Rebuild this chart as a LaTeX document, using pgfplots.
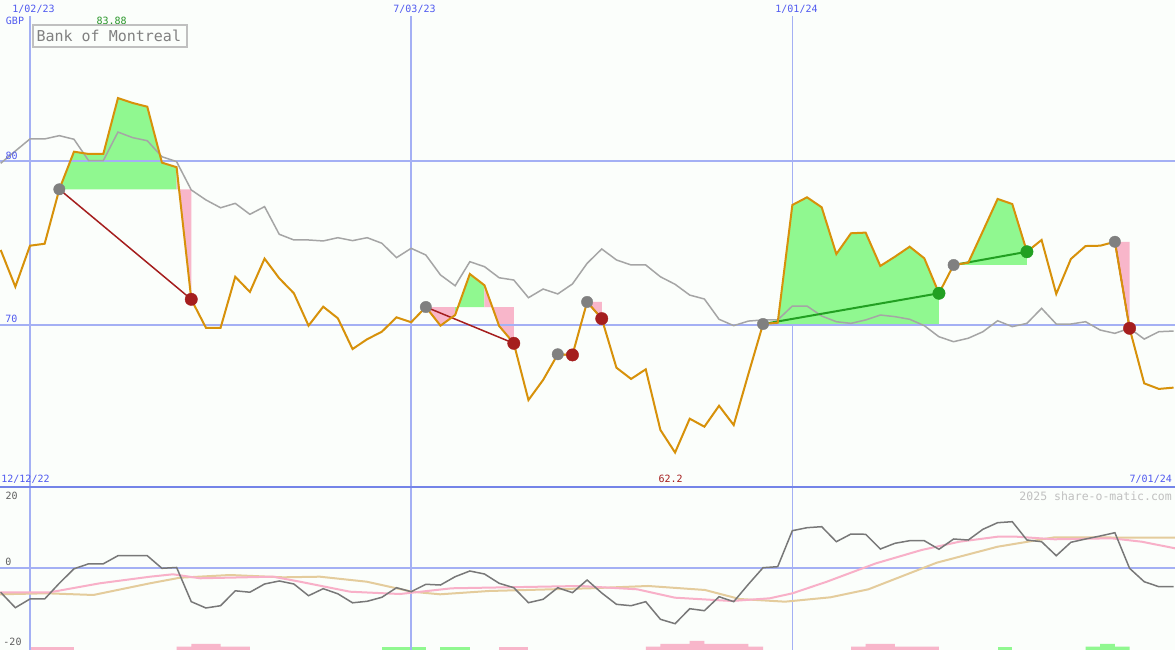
\documentclass[border=0pt]{standalone}
\usepackage{pgfplots}
\pgfplotsset{compat=1.18}
\usepackage{pgfplotstable}
\usepackage{fontspec}
\newfontfamily\mono{DejaVu Sans Mono}
\definecolor{bg}{RGB}{251,254,251}
\definecolor{gridblue}{RGB}{164,176,244}
\definecolor{sepblue}{RGB}{116,132,232}
\definecolor{labblue}{RGB}{80,90,240}
\definecolor{orangeline}{RGB}{215,145,10}
\definecolor{greyline}{RGB}{165,165,165}
\definecolor{fillgreen}{RGB}{144,248,144}
\definecolor{fillpink}{RGB}{248,182,202}
\definecolor{lossred}{RGB}{165,30,30}
\definecolor{gaingreen}{RGB}{34,160,34}
\definecolor{markgrey}{RGB}{128,128,128}
\definecolor{momgrey}{RGB}{120,120,120}
\definecolor{smpink}{RGB}{248,176,200}
\definecolor{smtan}{RGB}{228,204,156}
\definecolor{labgreen}{RGB}{40,150,40}
\definecolor{boxgrey}{RGB}{192,192,192}
\definecolor{txtgrey}{RGB}{128,128,128}
\definecolor{ticgrey}{RGB}{96,96,96}

\pgfplotstableread{
k v
-2 74.59
-1 72.34
0 74.85
1 74.97
2 78.30
3 80.60
4 80.46
5 80.46
6 83.88
7 83.58
8 83.35
9 79.93
10 79.65
11 71.57
12 69.83
13 69.83
14 72.95
15 72.02
16 74.06
17 72.86
18 71.94
19 69.96
20 71.12
21 70.41
22 68.53
23 69.13
24 69.59
25 70.47
26 70.17
27 71.10
28 69.96
29 70.61
30 73.12
31 72.43
32 69.94
33 68.88
34 65.41
35 66.64
36 68.21
37 68.17
38 71.41
39 70.39
40 67.39
41 66.70
42 67.29
43 63.58
44 62.20
45 64.27
46 63.78
47 65.06
48 63.88
49 67.00
50 70.06
51 70.14
52 77.34
53 77.81
54 77.20
55 74.34
56 75.61
57 75.65
58 73.61
59 74.18
60 74.79
61 74.08
62 71.94
63 73.67
64 73.81
65 75.75
66 77.71
67 77.40
68 74.48
69 75.20
70 71.90
71 74.04
72 74.83
73 74.85
74 75.09
75 69.80
76 66.43
77 66.09
78 66.17
}\orangedata

\pgfplotstableread{
k v
-2 79.89
-1 80.64
0 81.38
1 81.38
2 81.58
3 81.36
4 80.05
5 80.05
6 81.80
7 81.46
8 81.27
9 80.29
10 79.99
11 78.26
12 77.65
13 77.17
14 77.44
15 76.77
16 77.24
17 75.55
18 75.20
19 75.20
20 75.14
21 75.34
22 75.16
23 75.34
24 75.00
25 74.12
26 74.69
27 74.28
28 73.06
29 72.40
30 73.87
31 73.57
32 72.89
33 72.75
34 71.67
35 72.20
36 71.90
37 72.51
38 73.77
39 74.65
40 73.98
41 73.67
42 73.67
43 72.95
44 72.49
45 71.83
46 71.59
47 70.35
48 69.96
49 70.24
50 70.31
51 70.31
52 71.16
53 71.16
54 70.55
55 70.20
56 70.10
57 70.31
58 70.61
59 70.51
60 70.35
61 69.96
62 69.28
63 68.98
64 69.19
65 69.59
66 70.26
67 69.90
68 70.10
69 71.02
70 70.06
71 70.06
72 70.20
73 69.69
74 69.49
75 69.80
76 69.14
77 69.59
78 69.63
}\greydata

\pgfplotstableread{
k v
-2 -6.83
-1 -11.11
0 -8.69
1 -8.69
2 -4.33
3 -0.31
4 1.08
5 1.08
6 3.33
7 3.33
8 3.33
9 -0.17
10 0.06
11 -9.44
12 -11.19
13 -10.56
14 -6.42
15 -6.81
16 -4.53
17 -3.69
18 -4.53
19 -7.78
20 -5.83
21 -7.25
22 -9.75
23 -9.33
24 -8.22
25 -5.56
26 -6.67
27 -4.61
28 -4.81
29 -2.50
30 -0.92
31 -1.75
32 -4.33
33 -5.56
34 -9.72
35 -8.78
36 -5.56
37 -6.94
38 -3.42
39 -7.03
40 -10.17
41 -10.56
42 -9.44
43 -14.33
44 -15.56
45 -11.39
46 -11.94
47 -8.06
48 -9.44
49 -4.61
50 0.00
51 0.28
52 10.28
53 11.11
54 11.39
55 7.22
56 9.36
57 9.28
58 5.19
59 6.78
60 7.50
61 7.50
62 5.11
63 7.97
64 7.69
65 10.67
66 12.50
67 12.78
68 7.69
69 7.22
70 3.33
71 7.06
72 7.97
73 8.81
74 9.72
75 -0.17
76 -3.89
77 -5.28
78 -5.28
}\momdata

\pgfplotstableread{
k v
-2.05 -6.83
1.36 -6.83
4.77 -4.33
8.19 -2.50
9.75 -1.83
11.60 -2.94
16.58 -2.50
18.42 -3.89
21.83 -6.67
25.24 -7.31
28.76 -5.72
32.61 -5.44
37.52 -5.08
41.41 -6.00
43.99 -8.33
47.87 -9.25
50.46 -8.50
52.01 -7.11
54.35 -3.89
57.71 1.22
60.82 4.92
63.40 7.22
66.00 8.61
67.29 8.61
69.88 7.89
73.76 8.17
75.83 7.22
78.10 5.39
}\pinkdata

\pgfplotstableread{
k v
-2.05 -7.39
1.14 -7.11
4.32 -7.58
8.19 -4.33
10.23 -2.78
13.64 -2.03
17.28 -2.67
19.78 -2.50
22.97 -3.89
26.06 -6.67
27.97 -7.39
31.31 -6.47
38.20 -5.72
42.16 -5.08
46.04 -6.19
48.39 -8.69
51.50 -9.44
54.60 -8.22
57.19 -6.00
61.85 1.39
66.00 5.83
69.88 8.44
78.10 8.33
}\tandata

\begin{document}
\begin{tikzpicture}
\fill[bg] (0pt,0pt) rectangle (1175pt,650pt);

% ---------------- top panel ----------------
\begin{axis}[at={(0pt,163pt)}, anchor=south west, scale only axis,
  width=1175pt, height=487pt,
  xmin=-2.046, xmax=78.10, ymin=60.092, ymax=89.878,
  hide axis, clip=true]
\draw[gridblue, line width=1.2pt] (axis cs:0,60.092) -- (axis cs:0,88.90);
\draw[gridblue, line width=2pt] (axis cs:26,60.092) -- (axis cs:26,88.90);
\draw[gridblue, line width=1pt] (axis cs:52,60.092) -- (axis cs:52,88.90);
% trade fills
\addplot[fill=fillgreen, draw=none, forget plot] coordinates {(2,78.30)(3,80.60)(4,80.46)(5,80.46)(6,83.88)(7,83.58)(8,83.35)(9,79.93)(10,79.65)(10,78.30)};
\addplot[fill=fillpink, draw=none, forget plot] coordinates {(10,78.30)(10,79.65)(11,71.57)(11,78.30)};
\addplot[fill=fillpink, draw=none, forget plot] coordinates {(27,71.10)(28,69.96)(29,70.61)(29,71.10)};
\addplot[fill=fillgreen, draw=none, forget plot] coordinates {(29,71.10)(29,70.61)(30,73.12)(31,72.43)(31,71.10)};
\addplot[fill=fillpink, draw=none, forget plot] coordinates {(31,71.10)(31,72.43)(32,69.94)(33,68.88)(33,71.10)};
\addplot[fill=fillpink, draw=none, forget plot] coordinates {(36,68.21)(37,68.17)(37,68.21)};
\addplot[fill=fillpink, draw=none, forget plot] coordinates {(38,71.41)(39,70.39)(39,71.41)};
\addplot[fill=fillgreen, draw=none, forget plot] coordinates {(50,70.06)(51,70.14)(52,77.34)(53,77.81)(54,77.20)(55,74.34)(56,75.61)(57,75.65)(58,73.61)(59,74.18)(60,74.79)(61,74.08)(62,71.94)(62,70.06)};
\addplot[fill=fillgreen, draw=none, forget plot] coordinates {(63,73.67)(64,73.81)(65,75.75)(66,77.71)(67,77.40)(68,74.48)(68,73.67)};
\addplot[fill=fillpink, draw=none, forget plot] coordinates {(74,75.09)(75,69.80)(75,75.09)};
% horizontal grid
\draw[gridblue, line width=2pt] (axis cs:-2.046,80) -- (axis cs:78.10,80);
\draw[gridblue, line width=2pt] (axis cs:-2.046,70) -- (axis cs:78.10,70);
% comparison line
\addplot[greyline, line width=1.5pt, forget plot] table[x=k,y=v] {\greydata};
% entry markers
\addplot[only marks, mark=*, mark size=5.7pt, color=markgrey, forget plot] coordinates {(2,78.30)(27,71.10)(36,68.21)(38,71.41)(50,70.06)(63,73.67)(74,75.09)};
% trade lines
\addplot[lossred, line width=1.5pt, forget plot] coordinates {(2,78.30)(11,71.57)};
\addplot[lossred, line width=1.5pt, forget plot] coordinates {(27,71.10)(33,68.88)};
\addplot[lossred, line width=1.5pt, forget plot] coordinates {(36,68.21)(37,68.17)};
\addplot[lossred, line width=1.5pt, forget plot] coordinates {(38,71.41)(39,70.39)};
\addplot[lossred, line width=1.5pt, forget plot] coordinates {(74,75.09)(75,69.80)};
\addplot[gaingreen, line width=2pt, forget plot] coordinates {(50,70.06)(62,71.94)};
\addplot[gaingreen, line width=2pt, forget plot] coordinates {(63,73.67)(68,74.48)};
% price
\addplot[orangeline, line width=2pt, forget plot] table[x=k,y=v] {\orangedata};
% exit markers
\addplot[only marks, mark=*, mark size=6.2pt, color=lossred, forget plot] coordinates {(11,71.57)(33,68.88)(37,68.17)(39,70.39)(75,69.80)};
\addplot[only marks, mark=*, mark size=6.2pt, color=gaingreen, forget plot] coordinates {(62,71.94)(68,74.48)};
\end{axis}

% ---------------- bottom bars ----------------
\begin{axis}[at={(0pt,0pt)}, anchor=south west, scale only axis,
  width=1175pt, height=163pt,
  xmin=-2.046, xmax=78.10, ymin=0, ymax=163,
  hide axis, clip=true]
\addplot[fill=fillpink, draw=none, forget plot] coordinates {(0,0)(0,3.3)(3,3.3)(3,0)};
\addplot[fill=fillpink, draw=none, forget plot] coordinates {(10,0)(10,3.3)(11,3.3)(11,6)(13,6)(13,3.3)(15,3.3)(15,0)};
\addplot[fill=fillpink, draw=none, forget plot] coordinates {(32,0)(32,3.3)(34,3.3)(34,0)};
\addplot[fill=fillpink, draw=none, forget plot] coordinates {(42,0)(42,3.3)(43,3.3)(43,6)(45,6)(45,9)(46,9)(46,6)(49,6)(49,3.3)(50,3.3)(50,0)};
\addplot[fill=fillpink, draw=none, forget plot] coordinates {(56,0)(56,3.3)(57,3.3)(57,6)(59,6)(59,3.3)(62,3.3)(62,0)};
\addplot[fill=fillgreen, draw=none, forget plot] coordinates {(24,0)(24,3.3)(27,3.3)(27,0)};
\addplot[fill=fillgreen, draw=none, forget plot] coordinates {(28,0)(28,3.3)(30,3.3)(30,0)};
\addplot[fill=fillgreen, draw=none, forget plot] coordinates {(66,0)(66,3.3)(67,3.3)(67,0)};
\addplot[fill=fillgreen, draw=none, forget plot] coordinates {(72,0)(72,3.3)(73,3.3)(73,6)(74,6)(74,3.3)(75,3.3)(75,0)};
\end{axis}

% ---------------- bottom panel ----------------
\begin{axis}[at={(0pt,0pt)}, anchor=south west, scale only axis,
  width=1175pt, height=163pt,
  xmin=-2.046, xmax=78.10, ymin=-22.861, ymax=22.417,
  hide axis, clip=true]
\draw[gridblue, line width=1.2pt] (axis cs:0,-22.861) -- (axis cs:0,22.417);
\draw[gridblue, line width=2pt] (axis cs:26,-22.861) -- (axis cs:26,22.417);
\draw[gridblue, line width=1pt] (axis cs:52,-22.861) -- (axis cs:52,22.417);
\draw[gridblue, line width=2pt] (axis cs:-2.046,0) -- (axis cs:78.10,0);
\addplot[smtan, line width=2pt, forget plot] table[x=k,y=v] {\tandata};
\addplot[smpink, line width=2pt, forget plot] table[x=k,y=v] {\pinkdata};
\addplot[momgrey, line width=1.5pt, forget plot] table[x=k,y=v] {\momdata};
\end{axis}

% separator
\draw[sepblue, line width=2pt] (0pt,163.3pt) -- (1175pt,163.3pt);

% labels
\begin{scope}[every node/.style={inner sep=0pt, font=\mono\fontsize{10}{12}\selectfont}]
\node[text=labblue] at (33.5pt,641pt) {1/02/23};
\node[text=labblue] at (414.5pt,641pt) {7/03/23};
\node[text=labblue] at (796.5pt,641pt) {1/01/24};
\node[text=labblue] at (15pt,629pt) {GBP};
\node[text=labgreen] at (111.7pt,629pt) {83.88};
\node[text=labblue] at (11.7pt,494pt) {80};
\node[text=labblue] at (11.3pt,330.7pt) {70};
\node[text=labblue] at (25.5pt,171pt) {12/12/22};
\node[text=lossred] at (670.6pt,171pt) {62.2};
\node[text=labblue, anchor=east] at (1172pt,171pt) {7/01/24};
\node[text=ticgrey] at (11.7pt,154.3pt) {20};
\node[text=ticgrey] at (8.3pt,88.3pt) {0};
\node[text=ticgrey] at (12.5pt,8.3pt) {-20};
\node[text=boxgrey, anchor=east, font=\mono\fontsize{11.5}{13}\selectfont] at (1172pt,154pt) {2025 share-o-matic.com};
\end{scope}
\draw[boxgrey, line width=2pt] (33.3pt,602.7pt) rectangle (187.3pt,624.7pt);
\node[inner sep=0pt, text=txtgrey, font=\mono\fontsize{15}{17}\selectfont] at (108.8pt,614.3pt) {Bank of Montreal};

\pgfresetboundingbox
\path (0pt,0pt) rectangle (1175pt,650pt);
\end{tikzpicture}
\end{document}
